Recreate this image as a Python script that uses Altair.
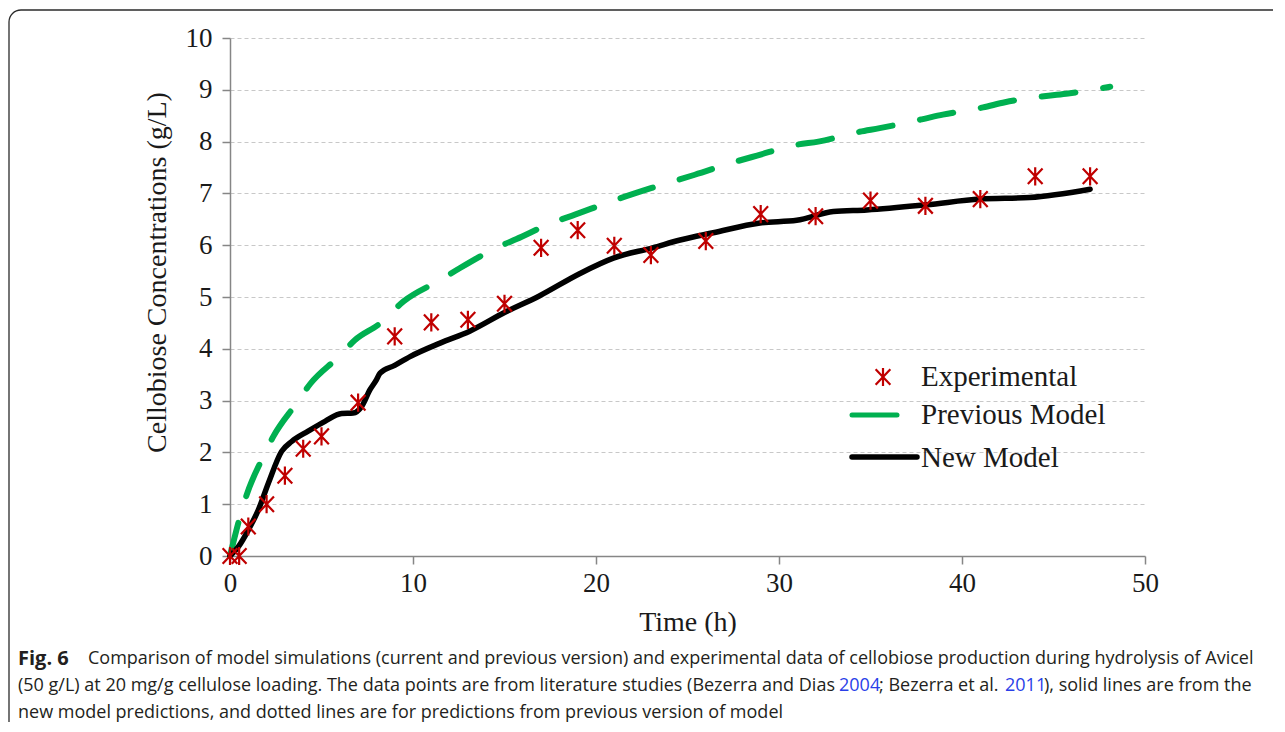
import altair as alt
import pandas as pd

# ---------------- data ----------------
exp_t = [0, 0.5, 1, 2, 3, 4, 5, 7, 9, 11, 13, 15, 17, 19, 21, 23, 26, 29, 32, 35, 38, 41, 44, 47]
exp_c = [0, 0, 0.57, 1.0, 1.55, 2.07, 2.31, 2.96, 4.24, 4.51, 4.56, 4.87, 5.95, 6.29, 5.99, 5.81,
         6.08, 6.6, 6.56, 6.86, 6.76, 6.89, 7.33, 7.33]

new_t = [0, 0.5, 1.0, 1.55, 2.1, 2.82, 3.37, 4.27, 5.19, 6.1, 6.73, 7.2, 7.65, 8.0, 8.2, 9.0, 9.84,
         11.48, 13.1, 15.0, 16.9, 19.1, 20.95, 23.1, 24.6, 26.4, 28.96, 30.97, 32.97, 34.8, 38.07,
         40.98, 43.7, 47.0]
new_c = [0, 0.2, 0.5, 0.89, 1.41, 2.02, 2.21, 2.41, 2.6, 2.75, 2.76, 2.89, 3.21, 3.4, 3.53, 3.68, 3.85,
         4.11, 4.34, 4.7, 5.02, 5.45, 5.75, 5.95, 6.1, 6.24, 6.43, 6.48, 6.65, 6.68, 6.78,
         6.89, 6.92, 7.08]

prev_t = [0, 0.55, 0.91, 1.82, 2.37, 3.64, 4.4, 5.95, 6.83, 8.2, 9.5, 11.5, 12.57, 14.57, 15.66,
          17.66, 18.85, 20.95, 23.0, 25.4, 27.6, 28.8, 30.97, 32.15, 34.4, 35.5, 37.8, 38.95,
          41.15, 42.35, 44.6, 45.8, 48.1]
prev_c = [0, 0.76, 1.18, 1.92, 2.31, 2.95, 3.33, 3.85, 4.17, 4.49, 4.92, 5.33, 5.56, 5.95, 6.12,
          6.44, 6.59, 6.86, 7.1, 7.36, 7.61, 7.73, 7.94, 8.0, 8.19, 8.26, 8.43, 8.52,
          8.66, 8.76, 8.88, 8.93, 9.06]

x_ticks = [0, 10, 20, 30, 40, 50]
y_ticks = [0, 1, 2, 3, 4, 5, 6, 7, 8, 9, 10]

legend_labels = ["Experimental", "Previous Model", "New Model"]

x_title = "Time (h)"
y_title = "Cellobiose Concentrations (g/L)"

caption_fig = ["Fig. 6"]
caption_line1 = ["Comparison of model simulations (current and previous version) and experimental data of cellobiose production during hydrolysis of Avicel"]
caption_line2 = ["(50 g/L) at 20 mg/g cellulose loading. The data points are from literature studies (Bezerra and Dias",
                 "2004", "; Bezerra et al.", "2011", "), solid lines are from the"]
caption_line3 = ["new model predictions, and dotted lines are for predictions from previous version of model"]

# ---------------- styling ----------------
SERIF = "Liberation Serif"
SANS = "Open Sans"
CAP_SIZE = 18
W, H = 915, 518
RED = "#C00000"
GREEN = "#00B050"
AXIS_GRAY = "#868686"
TXT = "#1a1a1a"
CAP = "#231F20"
LINK = "#2A3FE8"
ASTER = "M-0.85,-0.9L0.85,0.9M-0.85,0.9L0.85,-0.9M0,-1.05L0,1.05"

xenc = alt.X("t:Q", scale=alt.Scale(domain=[0, 50], nice=False),
             axis=alt.Axis(values=x_ticks, title=x_title, grid=False, format="d", labelFlush=False,
                           labelPadding=6, titleY=66, titleBaseline="middle"))
yenc = alt.Y("c:Q", scale=alt.Scale(domain=[0, 10], nice=False),
             axis=alt.Axis(values=y_ticks, title=y_title, grid=True, format="d", labelFlush=False,
                           labelPadding=10, titleAngle=270, titleX=-73, titleY=234,
                           titleAlign="center", titleBaseline="middle"))

new_df = pd.DataFrame({"t": new_t, "c": new_c})
prev_df = pd.DataFrame({"t": prev_t, "c": prev_c})
exp_df = pd.DataFrame({"t": exp_t, "c": exp_c})

new_line = alt.Chart(new_df).mark_line(color="black", strokeWidth=5.5, interpolate="monotone",
                                        strokeCap="round", strokeJoin="round").encode(x=xenc, y=yenc)
prev_line = alt.Chart(prev_df).mark_line(color=GREEN, strokeWidth=6, strokeDash=[34, 28],
                                         strokeCap="round", interpolate="monotone").encode(x=xenc, y=yenc)
exp_pts = alt.Chart(exp_df).mark_point(shape=ASTER, size=300, filled=False, color=RED,
                                       strokeWidth=2.2, opacity=1).encode(x=xenc, y=yenc)

# ---------------- legend (inside plot) ----------------
leg_sym = alt.Chart(pd.DataFrame({"label": [legend_labels[0]]})).mark_point(
    shape=ASTER, size=300, filled=False, color=RED, strokeWidth=2.2, opacity=1
).encode(x=alt.value(653), y=alt.value(339))
leg_green = alt.Chart(pd.DataFrame({"label": [legend_labels[1]]})).mark_rule(
    color=GREEN, strokeWidth=5, strokeCap="round"
).encode(x=alt.value(622), x2=alt.value(667), y=alt.value(377))
leg_black = alt.Chart(pd.DataFrame({"label": [legend_labels[2]]})).mark_rule(
    color="black", strokeWidth=5.5, strokeCap="round"
).encode(x=alt.value(622), x2=alt.value(687), y=alt.value(419))
leg_text = alt.Chart(pd.DataFrame({"label": legend_labels, "yy": [339, 377, 420]})).mark_text(
    font=SERIF, fontSize=29, align="left", baseline="middle", color=TXT
).encode(x=alt.value(691), y=alt.Y("yy:Q", scale=None), text="label:N")

# ---------------- caption ----------------
def cap_text(lines, x, y, color=CAP, bold=False, size=CAP_SIZE):
    return alt.Chart(pd.DataFrame({"s": lines})).mark_text(
        font=SANS, fontSize=size, align="left", baseline="middle", color=color,
        fontWeight="bold" if bold else "normal"
    ).encode(x=alt.value(x), y=alt.value(y), text="s:N")

cap_layers = [
    cap_text(caption_fig, -212, 621, bold=True, size=20),
    cap_text(caption_line1, -142, 621),
    cap_text([caption_line2[0]], -212, 648),
    cap_text([caption_line2[1]], 609, 648, color=LINK),
    cap_text([caption_line2[2]], 649, 648),
    cap_text([caption_line2[3]], 775, 648, color=LINK),
    cap_text([caption_line2[4]], 814, 648),
    cap_text(caption_line3, -212, 675),
]

frame = alt.Chart(pd.DataFrame({"f": [0]})).mark_rect(
    fillOpacity=0, stroke="#2b2b2b", strokeWidth=1.3, cornerRadius=12
).encode(x=alt.value(-221), x2=alt.value(1300), y=alt.value(-28), y2=alt.value(900))

chart = alt.layer(
    frame, prev_line, new_line, exp_pts, leg_sym, leg_green, leg_black, leg_text, *cap_layers
).properties(
    width=W, height=H,
    padding={"left": 222, "top": 30, "right": 128, "bottom": 166},
    autosize=alt.AutoSizeParams(type="none"),
).configure_view(strokeWidth=0).configure_axis(
    domainColor=AXIS_GRAY, domainWidth=1.5, tickColor=AXIS_GRAY, tickWidth=1.5, tickSize=8,
    labelFont=SERIF, labelFontSize=27, labelColor=TXT,
    titleFont=SERIF, titleFontSize=28, titleFontWeight="normal", titleColor=TXT,
    gridColor="#C8C8C8", gridDash=[4, 3], gridWidth=1,
)

chart.save("out.html", embed_options={"renderer": "svg", "actions": False})
